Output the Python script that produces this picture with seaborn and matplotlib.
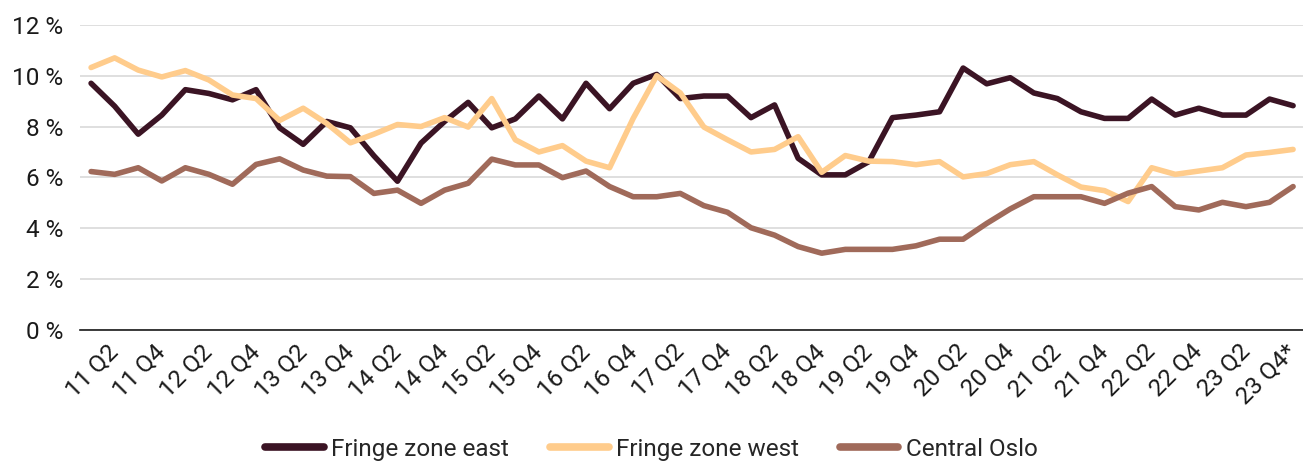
import numpy as np
import pandas as pd
import seaborn as sns
import matplotlib.pyplot as plt
from matplotlib.ticker import FuncFormatter

# kvartaler 11 Q1 .. 23 Q4
years = list(range(11, 24))
quarters = [f"{y} Q{q}" for y in years for q in range(1, 5)]

fringe_east = [9.70, 8.80, 7.70, 8.45, 9.45, 9.30, 9.05, 9.45, 7.95, 7.30,
               8.20, 7.95, 6.85, 5.85, 7.35, 8.20, 8.95, 7.95, 8.30, 9.20,
               8.30, 9.70, 8.70, 9.70, 10.05, 9.10, 9.20, 9.20, 8.35, 8.85,
               6.75, 6.10, 6.10, 6.62, 8.35, 8.45, 8.58, 10.30, 9.68, 9.92,
               9.32, 9.10, 8.58, 8.32, 8.32, 9.08, 8.45, 8.72, 8.45, 8.45,
               9.08, 8.82]

fringe_west = [10.32, 10.70, 10.22, 9.95, 10.20, 9.83, 9.24, 9.10, 8.24, 8.72,
               8.12, 7.36, 7.70, 8.08, 8.00, 8.35, 7.98, 9.10, 7.48, 7.00,
               7.25, 6.64, 6.38, 8.32, 10.00, 9.32, 7.98, 7.48, 7.00, 7.10,
               7.60, 6.20, 6.86, 6.64, 6.62, 6.50, 6.62, 6.02, 6.15, 6.50,
               6.62, 6.10, 5.62, 5.48, 5.05, 6.38, 6.12, 6.25, 6.38, 6.88,
               6.98, 7.10]

central_oslo = [6.23, 6.12, 6.38, 5.86, 6.38, 6.12, 5.73, 6.51, 6.73, 6.29,
                6.05, 6.03, 5.37, 5.50, 4.98, 5.50, 5.77, 6.72, 6.49, 6.49,
                5.99, 6.25, 5.64, 5.24, 5.24, 5.37, 4.89, 4.63, 4.02, 3.73,
                3.28, 3.02, 3.17, 3.17, 3.17, 3.31, 3.57, 3.57, 4.19, 4.76,
                5.24, 5.24, 5.24, 4.98, 5.38, 5.64, 4.85, 4.72, 5.02, 4.85,
                5.02, 5.64]

series_names = ["Fringe zone east", "Fringe zone west", "Central Oslo"]
colors = ["#3b1424", "#ffcc8c", "#a06a5a"]


def lag_dataframe():
    """Bygger long-format tabell for seaborn."""
    n = len(quarters)
    df = pd.DataFrame({
        "idx": list(range(n)) * 3,
        "value": fringe_east + fringe_west + central_oslo,
        "zone": [series_names[0]] * n + [series_names[1]] * n + [series_names[2]] * n,
    })
    return df


def lag_plot(df):
    sns.set_style("white")
    plt.rcParams["font.family"] = ["Roboto", "DejaVu Sans"]

    fig = plt.figure(figsize=(13.03, 4.62), dpi=100)
    ax = fig.add_axes([80 / 1303, 1 - 330 / 462, 1 - 80 / 1303, (330 - 24.8) / 462])

    sns.lineplot(data=df, x="idx", y="value", hue="zone", hue_order=series_names,
                 palette=colors, linewidth=4.0, ax=ax, legend=False)

    ax.set_ylim(0, 12)
    ax.set_xlim(-0.47, len(quarters) - 0.58)
    ax.set_yticks(range(0, 13, 2))
    ax.yaxis.set_major_formatter(FuncFormatter(lambda v, p: f"{int(v)} %"))
    ax.grid(axis="y", color="#d9d9d9", linewidth=1.2)
    ax.set_axisbelow(True)

    # tick-etiketter for Q2 og Q4
    tick_pos = list(range(1, len(quarters), 2))
    tick_lab = [quarters[i] for i in tick_pos]
    tick_lab[-1] = tick_lab[-1] + "*"
    ax.set_xticks(tick_pos)
    ax.set_xticklabels(tick_lab, rotation=45, ha="right", va="center",
                       rotation_mode="anchor")
    ax.tick_params(axis="both", length=0, labelsize=17.5, colors="#1a1a1a")
    ax.tick_params(axis="x", pad=13)
    ax.tick_params(axis="y", pad=12)

    for s in ["top", "right", "left"]:
        ax.spines[s].set_visible(False)
    ax.spines["bottom"].set_color("#1a1a1a")
    ax.spines["bottom"].set_linewidth(1.2)
    ax.set_xlabel("")
    ax.set_ylabel("")

    handles = [plt.Line2D([0], [0], color=c, linewidth=5.5, solid_capstyle="round") for c in colors]
    fig.legend(handles, series_names, loc="center", bbox_to_anchor=(0.5, 0.028),
               ncol=3, frameon=False, fontsize=17.5, handlelength=2.4, columnspacing=1.7,
               handletextpad=0.3)

    fig.savefig("out.png", dpi=100)


def main():
    df = lag_dataframe()
    lag_plot(df)


if __name__ == "__main__":
    main()
